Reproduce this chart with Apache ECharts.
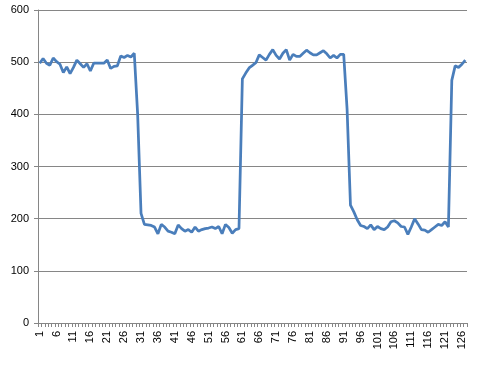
<!DOCTYPE html>
<html>
<head>
<meta charset="utf-8">
<script src="https://cdn.jsdelivr.net/npm/echarts@6/dist/echarts.min.js"></script>
<style>
  html, body { margin: 0; padding: 0; background: #ffffff; }
  #chart { width: 485px; height: 365px; }
</style>
</head>
<body>
<div id="chart"></div>
<script>
// Categories 1..127
const categories = [];
for (let i = 1; i <= 127; i++) categories.push(String(i));

// Values, segment by segment
const highSegment1 = [498, 507, 498, 494, 508, 501, 496, 480, 491, 478,
                      490, 504, 497, 490, 497, 483, 498, 498, 498, 498,
                      504, 488, 492, 493, 512, 509, 513, 510, 517];
const dropPoint1 = [400];
const lowSegment1 = [210, 189, 188, 187, 184, 171, 189, 184, 176, 174,
                     171, 188, 181, 176, 179, 174, 184, 176, 179, 181,
                     182, 184, 181, 185, 171, 189, 183, 172, 179, 181];
const highSegment2 = [468, 479, 489, 494, 499, 514, 509, 504, 515, 524,
                      513, 506, 517, 524, 504, 515, 511, 511, 517, 523,
                      518, 514, 514, 518, 522, 516, 508, 513, 508, 515, 515];
const dropPoint2 = [410];
const lowSegment2 = [226, 213, 198, 187, 185, 181, 188, 179, 185, 181,
                     179, 184, 194, 196, 192, 185, 184, 170, 184, 200,
                     190, 179, 178, 174, 179, 184, 189, 187, 194, 184];
const highSegment3 = [465, 493, 490, 496, 504];

const seriesValues = [].concat(highSegment1, dropPoint1, lowSegment1,
  highSegment2, dropPoint2, lowSegment2, highSegment3);

const yTicks = { min: 0, max: 600, interval: 100 };

const chart = echarts.init(document.getElementById('chart'), null, { renderer: 'canvas' });
const axisGray = '#868686';
chart.setOption({
  animation: false,
  backgroundColor: '#ffffff',
  grid: { left: 38, right: 18, top: 10, bottom: 42, containLabel: false },
  xAxis: {
    type: 'category',
    data: categories,
    boundaryGap: true,
    axisLine: { show: true, lineStyle: { color: axisGray, width: 1 } },
    axisTick: { show: true, interval: 0, length: 4, lineStyle: { color: axisGray } },
    axisLabel: {
      interval: 4,
      rotate: 90,
      margin: 8,
      color: '#000000',
      fontFamily: 'Liberation Sans, Arial, sans-serif',
      fontSize: 11
    },
    splitLine: { show: false }
  },
  yAxis: {
    type: 'value',
    min: yTicks.min,
    max: yTicks.max,
    interval: yTicks.interval,
    axisLine: { show: true, lineStyle: { color: axisGray, width: 1 } },
    axisTick: { show: true, length: 4, lineStyle: { color: axisGray } },
    axisLabel: {
      margin: 9,
      color: '#000000',
      fontFamily: 'Liberation Sans, Arial, sans-serif',
      fontSize: 11
    },
    splitLine: { show: true, lineStyle: { color: axisGray, width: 1 } }
  },
  series: [{
    type: 'line',
    data: seriesValues,
    showSymbol: false,
    symbol: 'none',
    lineStyle: { color: '#4a7ebb', width: 2.75 },
    itemStyle: { color: '#4a7ebb' }
  }]
});
</script>
</body>
</html>
